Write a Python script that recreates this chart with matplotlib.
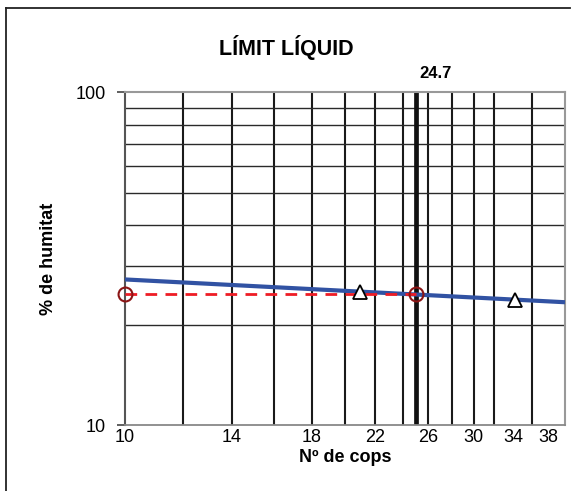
import matplotlib
matplotlib.use("Agg")
import matplotlib.pyplot as plt
from matplotlib.lines import Line2D

plt.rcParams['font.family'] = ['Liberation Sans', 'DejaVu Sans']

# data
cops = [21, 34.2]            # assaigs (triangles)
humitat = [25.2, 23.8]
recta_x = [10, 40]           # recta ajustada
recta_y = [27.4, 23.4]
ll_cops = 25
ll = 24.7                    # limit liquid
grid_x = [12, 14, 16, 18, 20, 22, 24, 26, 28, 30, 32, 36]
grid_y = [20, 30, 40, 50, 60, 70, 80, 90]
xticks = [10, 14, 18, 22, 26, 30, 34, 38]
yticks = [10, 100]

fig = plt.figure(figsize=(5.73, 4.91), dpi=100)
ax = fig.add_axes([125/573, 66/491, 440/573, 332.5/491])
ax.set_xscale('log')
ax.set_yscale('log')
ax.set_xlim(10, 40)
ax.set_ylim(10, 100)

# quadricula
for gx in grid_x:
    ax.axvline(gx, color='#1a1a1a', lw=1.5, zorder=1)
for gy in grid_y:
    ax.axhline(gy, color='#2a2a2a', lw=1.0, zorder=1)
ax.axvline(ll_cops, color='#111111', lw=3.4, zorder=2)

# recta i punts
ax.plot(recta_x, recta_y, color='#3152a3', lw=3, zorder=3, solid_capstyle='butt')
ax.plot([10, ll_cops], [ll, ll], color='#ee1c25', lw=2, dashes=(4.2, 3), zorder=4)
ax.plot(cops, humitat, ls='none', marker='^', ms=10, mfc='white', mec='black', mew=1.3, zorder=5)
ax.plot([10, ll_cops], [ll, ll], ls='none', marker='o', ms=10, mfc='none', mec='#8b1515', mew=1.5,
        zorder=6, clip_on=False)

ax.minorticks_off()
ax.set_xticks(xticks)
ax.set_xticklabels([str(v) for v in xticks])
ax.set_yticks(yticks)
ax.set_yticklabels([str(v) for v in yticks])
ax.tick_params(axis='x', length=0, pad=3, labelsize=13)
ax.tick_params(axis='y', length=6, width=1.2, color='#444444', pad=8, labelsize=13)

ax.spines['left'].set_color('#555555')
ax.spines['left'].set_linewidth(1.5)
ax.spines['bottom'].set_color('#888888')
ax.spines['bottom'].set_linewidth(1.3)
for s in ['top', 'right']:
    ax.spines[s].set_color('#999999')
    ax.spines[s].set_linewidth(1.5)

ax.set_xlabel('Nº de cops', fontsize=13, fontweight='bold', labelpad=2)
ax.set_ylabel('% de humitat', fontsize=13, fontweight='bold', labelpad=13)

fig.text(286/573, 1 - 47/491, 'LÍMIT LÍQUID', ha='center', va='center', fontsize=15.5, fontweight='bold')
fig.text(436/573, 1 - 73/491, f'{ll}', ha='center', va='center', fontsize=12, fontweight='bold')

# marc exterior
fig.add_artist(Line2D([6/573, 570/573], [1 - 8/491, 1 - 8/491], transform=fig.transFigure, color='#222222', lw=1.3))
fig.add_artist(Line2D([6/573, 6/573], [0, 1 - 8/491], transform=fig.transFigure, color='#222222', lw=1.3))

fig.savefig('out.png', dpi=100)
